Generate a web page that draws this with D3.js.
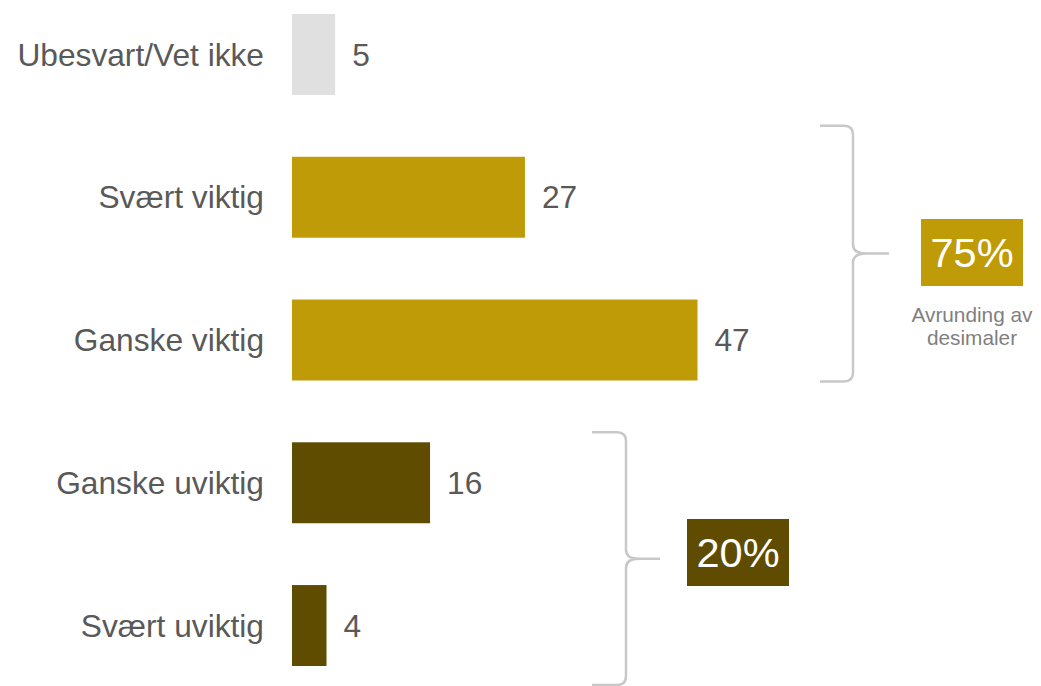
<!DOCTYPE html>
<html>
<head>
<meta charset="utf-8">
<script src="https://cdn.jsdelivr.net/npm/d3@7"></script>
<style>
  html, body { margin: 0; padding: 0; background: #ffffff; }
  svg { display: block; font-family: "Liberation Sans", Arial, sans-serif; }
</style>
</head>
<body>
<svg id="chart" width="1041" height="686"></svg>
<script>
// Answers, top to bottom
const categories = ["Ubesvart/Vet ikke", "Svært viktig", "Ganske viktig", "Ganske uviktig", "Svært uviktig"];
const values = [5, 27, 47, 16, 4];
const groups = ["none", "important", "important", "unimportant", "unimportant"];

// Summary totals shown next to the braces
const summaryLabels = ["75%", "20%"];
const summaryGroups = ["important", "unimportant"];
const noteLines = ["Avrunding av", "desimaler"];

const colors = { none: "#e0e0e0", important: "#bf9b07", unimportant: "#604c00" };
const textColor = "#595959";
const braceColor = "#c8c8c8";

const svg = d3.select("#chart");

const y = d3.scaleBand()
  .domain(categories)
  .range([14, 666])
  .paddingInner(0.433)
  .paddingOuter(0);

const x = d3.scaleLinear()
  .domain([0, 47])
  .range([292, 697.5]);

const rows = categories.map((c, i) => ({ cat: c, value: values[i], group: groups[i] }));

// Category labels
svg.append("g")
  .selectAll("text")
  .data(rows)
  .join("text")
  .attr("x", 264)
  .attr("y", d => y(d.cat) + y.bandwidth() / 2)
  .attr("dy", "0.35em")
  .attr("text-anchor", "end")
  .attr("font-size", 31.7)
  .attr("fill", textColor)
  .text(d => d.cat);

// Bars
svg.append("g")
  .selectAll("rect")
  .data(rows)
  .join("rect")
  .attr("x", x(0))
  .attr("y", d => y(d.cat))
  .attr("width", d => x(d.value) - x(0))
  .attr("height", y.bandwidth())
  .attr("fill", d => colors[d.group]);

// Value labels
svg.append("g")
  .selectAll("text")
  .data(rows)
  .join("text")
  .attr("x", d => x(d.value) + 17)
  .attr("y", d => y(d.cat) + y.bandwidth() / 2)
  .attr("dy", "0.35em")
  .attr("font-size", 31.7)
  .attr("fill", textColor)
  .text(d => d.value);

// Curly brace: arms at x0, spine at xs, tip at xt
function bracePath(x0, xs, xt, top, bottom) {
  const mid = (top + bottom) / 2;
  const r = 9;
  return [
    `M${x0},${top}`, `L${xs - r},${top}`, `Q${xs},${top} ${xs},${top + r}`,
    `L${xs},${mid - r}`, `Q${xs},${mid} ${xs + r + 4},${mid}`, `L${xt},${mid}`,
    `M${xs + r + 4},${mid}`, `Q${xs},${mid} ${xs},${mid + r}`,
    `L${xs},${bottom - r}`, `Q${xs},${bottom} ${xs - r},${bottom}`, `L${x0},${bottom}`
  ].join(" ");
}

const bw = y.bandwidth();
const braces = [
  { top: y("Svært viktig") - 31, bottom: y("Ganske viktig") + bw + 1, x0: 820, xs: 853, xt: 889,
    boxCx: 972, boxCy: 252.5, label: summaryLabels[0], group: summaryGroups[0] },
  { top: y("Ganske uviktig") - 10, bottom: y("Svært uviktig") + bw + 19, x0: 592, xs: 626, xt: 660,
    boxCx: 738, boxCy: 552.5, label: summaryLabels[1], group: summaryGroups[1] }
];

svg.append("g")
  .selectAll("path")
  .data(braces)
  .join("path")
  .attr("d", d => bracePath(d.x0, d.xs, d.xt, d.top, d.bottom))
  .attr("fill", "none")
  .attr("stroke", braceColor)
  .attr("stroke-width", 2.5)
  .attr("stroke-linejoin", "round");

// Summary boxes
const boxW = 102, boxH = 67;
const boxes = svg.append("g").selectAll("g").data(braces).join("g");
boxes.append("rect")
  .attr("x", d => d.boxCx - boxW / 2)
  .attr("y", d => d.boxCy - boxH / 2)
  .attr("width", boxW)
  .attr("height", boxH)
  .attr("fill", d => colors[d.group]);
boxes.append("text")
  .attr("x", d => d.boxCx)
  .attr("y", d => d.boxCy)
  .attr("dy", "0.36em")
  .attr("text-anchor", "middle")
  .attr("font-size", 41.5)
  .attr("fill", "#ffffff")
  .text(d => d.label);

// Rounding note under the first box
svg.append("g")
  .selectAll("text")
  .data(noteLines)
  .join("text")
  .attr("x", 972)
  .attr("y", (d, i) => 322 + i * 23)
  .attr("text-anchor", "middle")
  .attr("font-size", 20.8)
  .attr("fill", "#7f7f7f")
  .text(d => d);
</script>
</body>
</html>
